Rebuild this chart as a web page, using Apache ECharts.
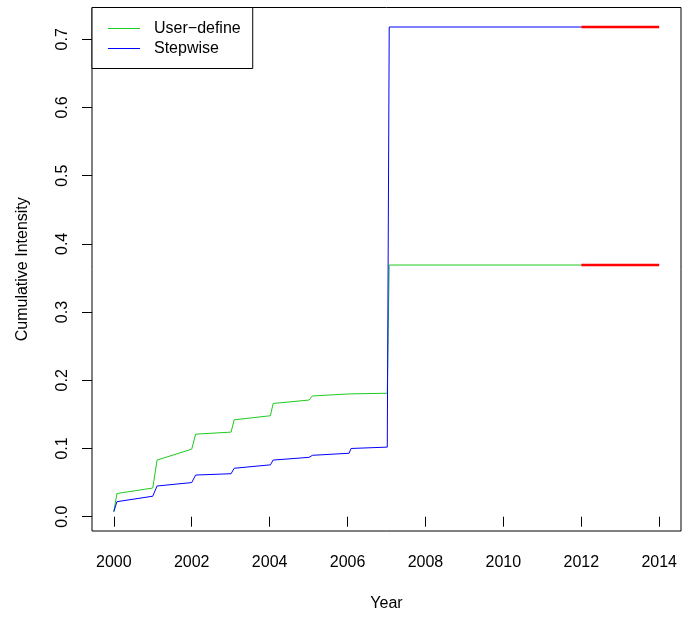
<!DOCTYPE html>
<html>
<head>
<meta charset="utf-8">
<script src="https://cdn.jsdelivr.net/npm/echarts/dist/echarts.min.js"></script>
<style>
  html, body { margin: 0; padding: 0; background: #fff; }
  #chart { width: 696px; height: 619px; }
</style>
</head>
<body>
<div id="chart"></div>
<script>
// Cumulative intensity over time, two estimation methods
const times = [2000.00, 2000.08, 2001.00, 2001.11, 2002.00, 2002.10, 2003.01, 2003.09,
               2004.02, 2004.09, 2005.01, 2005.10, 2006.04, 2006.09, 2007.02, 2007.07, 2012.00];
const userDefine = [0.0074, 0.034, 0.042, 0.083, 0.099, 0.121, 0.124, 0.142,
                    0.148, 0.166, 0.171, 0.177, 0.180, 0.181, 0.181, 0.369, 0.369];
const stepwise = [0.0074, 0.022, 0.030, 0.045, 0.050, 0.061, 0.063, 0.071,
                  0.076, 0.083, 0.087, 0.090, 0.093, 0.100, 0.102, 0.718, 0.718];

// Projection segment
const forecastTimes = [2012, 2014];
const forecastUserDefine = [0.369, 0.369];
const forecastStepwise = [0.718, 0.718];

// Axis ticks
const xTicks = [2000, 2002, 2004, 2006, 2008, 2010, 2012, 2014];
const yTicks = [0, 0.1, 0.2, 0.3, 0.4, 0.5, 0.6, 0.7];

const seriesNames = ['User\u2212define', 'Stepwise'];

const pairs = (xs, ys) => xs.map((x, i) => [x, ys[i]]);

const FONT = 'Liberation Sans, Arial, Helvetica, sans-serif';

const chart = echarts.init(document.getElementById('chart'), null, { renderer: 'canvas' });

chart.setOption({
  animation: false,
  backgroundColor: '#fff',
  textStyle: { fontFamily: FONT, color: '#000' },
  grid: {
    left: 92, right: 15, top: 7.5, bottom: 88,
    show: true, borderColor: '#000', borderWidth: 1, backgroundColor: 'transparent'
  },
  legend: {
    data: seriesNames,
    orient: 'vertical',
    left: 92, top: 7.5,
    padding: [13, 12, 12, 16],
    icon: 'rect',
    itemWidth: 32, itemHeight: 1, itemGap: 4,
    borderColor: '#000', borderWidth: 1, borderRadius: 0,
    backgroundColor: '#fff',
    textStyle: { fontFamily: FONT, fontSize: 16, color: '#000', lineHeight: 16, padding: [0, 0, 0, 9] }
  },
  xAxis: {
    type: 'value',
    min: 1999.44, max: 2014.56,
    name: 'Year', nameLocation: 'middle', nameGap: 65,
    nameTextStyle: { fontFamily: FONT, fontSize: 16, color: '#000' },
    axisLine: { show: false },
    splitLine: { show: false },
    axisTick: { show: true, length: 10, customValues: xTicks, lineStyle: { color: '#000', width: 1 } },
    axisLabel: { customValues: xTicks, margin: 24, fontFamily: FONT, fontSize: 16, color: '#000',
                 formatter: v => String(v) }
  },
  yAxis: {
    type: 'value',
    min: -0.021, max: 0.7466,
    name: 'Cumulative Intensity', nameLocation: 'middle', nameGap: 61,
    nameTextStyle: { fontFamily: FONT, fontSize: 16, color: '#000' },
    axisLine: { show: false },
    splitLine: { show: false },
    axisTick: { show: true, length: 10, customValues: yTicks, lineStyle: { color: '#000', width: 1 } },
    axisLabel: { customValues: yTicks, rotate: 90, margin: 21, fontFamily: FONT, fontSize: 16, color: '#000',
                 formatter: v => v.toFixed(1) }
  },
  series: [
    {
      name: seriesNames[0], type: 'line', symbol: 'none', showSymbol: false,
      data: pairs(times, userDefine),
      lineStyle: { color: '#1ecb1e', width: 1 }, itemStyle: { color: '#1ecb1e' }, z: 2
    },
    {
      name: seriesNames[1], type: 'line', symbol: 'none', showSymbol: false,
      data: pairs(times, stepwise),
      lineStyle: { color: '#0000ff', width: 1 }, itemStyle: { color: '#0000ff' }, z: 3
    },
    {
      name: 'forecast-user', type: 'line', symbol: 'none', showSymbol: false,
      data: pairs(forecastTimes, forecastUserDefine),
      lineStyle: { color: '#ff0000', width: 2.5 }, z: 4
    },
    {
      name: 'forecast-step', type: 'line', symbol: 'none', showSymbol: false,
      data: pairs(forecastTimes, forecastStepwise),
      lineStyle: { color: '#ff0000', width: 2.5 }, z: 4
    }
  ]
});
</script>
</body>
</html>
